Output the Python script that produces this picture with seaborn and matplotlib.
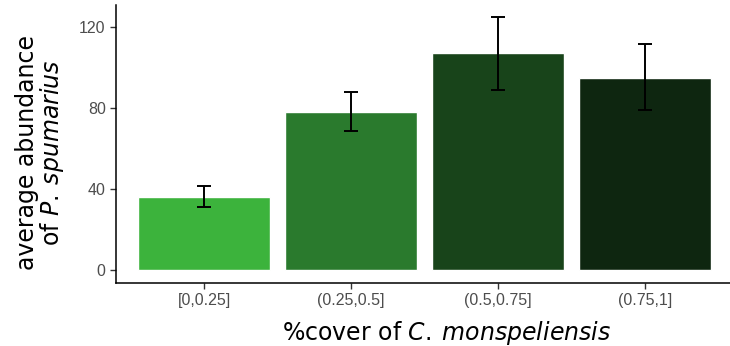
import numpy as np
import pandas as pd
import matplotlib
matplotlib.use("Agg")
import matplotlib.pyplot as plt
import seaborn as sns

# Datos
cobertura = ["[0,0.25]", "(0.25,0.5]", "(0.5,0.75]", "(0.75,1]"]
abundancia = [36.2, 78.0, 107.0, 95.1]
err_inf = [31.3, 68.6, 89.2, 78.9]
err_sup = [41.7, 87.9, 125.1, 111.9]
colores = ["#3cb33c", "#2a7a2d", "#18441a", "#0e2610"]

df = pd.DataFrame({"cobertura": cobertura, "abundancia": abundancia})

sns.set_style("white")
plt.rcParams["font.family"] = ["DejaVu Sans"]
plt.rcParams["mathtext.fontset"] = "custom"
plt.rcParams["mathtext.it"] = "DejaVu Sans:italic"
plt.rcParams["mathtext.rm"] = "DejaVu Sans"

fig = plt.figure(figsize=(7.3, 3.46), dpi=100)
ax = fig.add_axes([0.159, 0.182, 0.841, 0.804])

sns.barplot(data=df, x="cobertura", y="abundancia", hue="cobertura",
            palette=colores, saturation=1, width=0.9, legend=False, ax=ax, errorbar=None)

# Barras de error
x = np.arange(len(cobertura))
yerr = [np.array(abundancia) - np.array(err_inf), np.array(err_sup) - np.array(abundancia)]
ax.errorbar(x, abundancia, yerr=yerr, fmt="none", ecolor="black",
            elinewidth=1.4, capsize=5, capthick=1.4)

ax.set_xlim(-0.6, 3.58)
ax.set_ylim(-6.3, 131)
ax.set_yticks([0, 40, 80, 120])

ax.set_xlabel("%cover of $\\mathit{C.}\\:\\mathit{monspeliensis}$", fontsize=17, color="black")
ax.set_ylabel("average abundance\nof $\\mathit{P.}\\:\\mathit{spumarius}$", fontsize=17,
              color="black", linespacing=0.95, multialignment="center")
ax.xaxis.set_label_coords(0.539, -0.13)
ax.yaxis.set_label_coords(-0.082, 0.468)

ax.tick_params(axis="both", colors="#333333", length=4, width=1, labelsize=11.5,
               labelcolor="#4d4d4d", direction="out", bottom=True, left=True)
for lbl in ax.get_xticklabels() + ax.get_yticklabels():
    lbl.set_family("Liberation Sans")

sns.despine(ax=ax)
for s in ["left", "bottom"]:
    ax.spines[s].set_color("black")
    ax.spines[s].set_linewidth(1.1)

fig.savefig("out.png", dpi=100)
